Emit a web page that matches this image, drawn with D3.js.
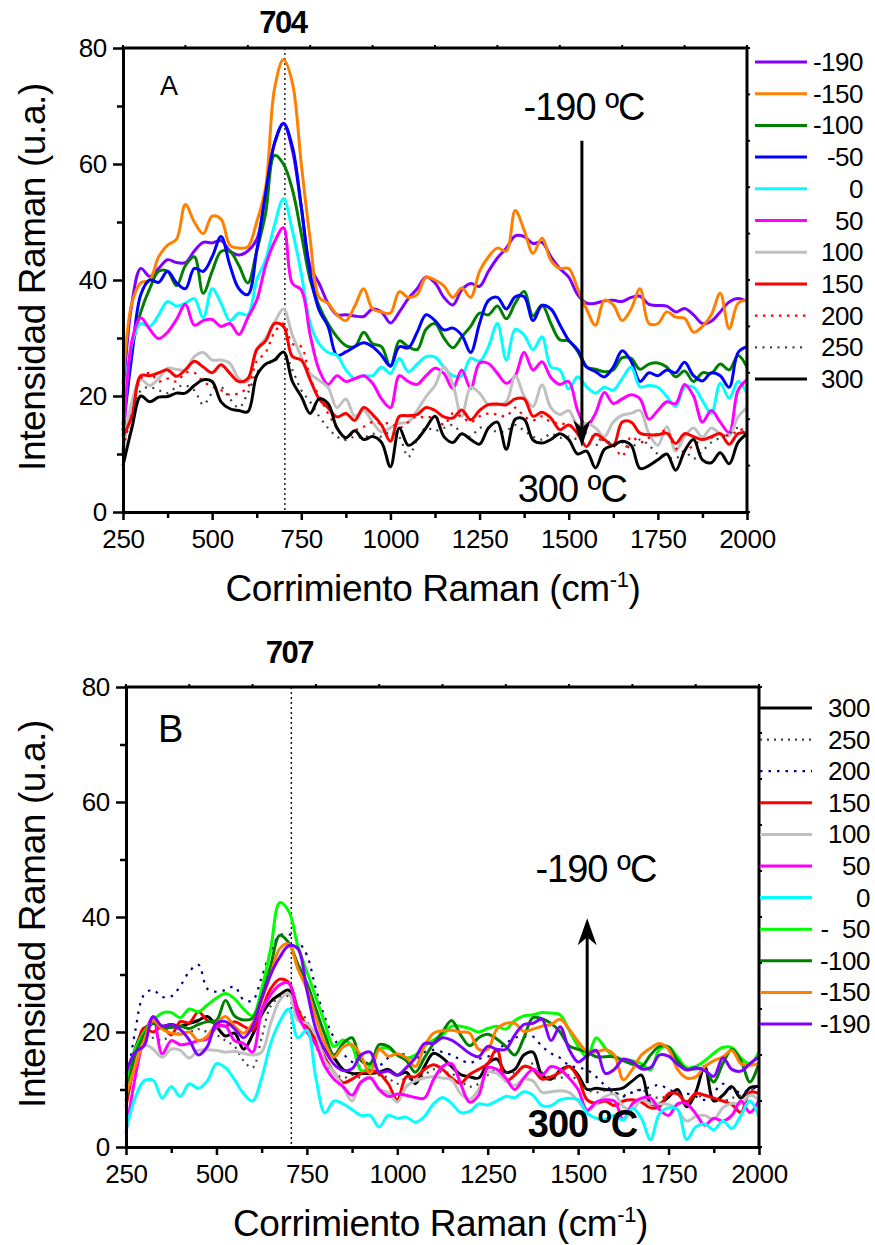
<!DOCTYPE html>
<html>
<head>
<meta charset="utf-8">
<script src="https://cdn.jsdelivr.net/npm/d3@7"></script>
<style>
    body { margin: 0; background: #fff; }
    #chart { width: 875px; height: 1245px; }
    text { font-family: "Liberation Sans", Arial, sans-serif; fill: #000; }
    .legendLabel { font-size: 26px; letter-spacing: -0.5px; }
    .axisTitle { font-size: 37px; letter-spacing: -0.4px; }
    .note { font-size: 38px; letter-spacing: -1px; }
    .peakLabel { font-size: 31px; font-weight: bold; letter-spacing: -1.5px; }
</style>
</head>
<body>
<div id="chart"></div>
<script>
// raman shift grid (cm-1)
const shift = [250, 275, 300, 325, 350, 375, 400, 425, 450, 475,
    500, 525, 550, 575, 600, 625, 650, 675, 700, 725,
    750, 775, 800, 825, 850, 875, 900, 925, 950, 975,
    1000, 1025, 1050, 1075, 1100, 1125, 1150, 1175, 1200, 1225,
    1250, 1275, 1300, 1325, 1350, 1375, 1400, 1425, 1450, 1475,
    1500, 1525, 1550, 1575, 1600, 1625, 1650, 1675, 1700, 1725,
    1750, 1775, 1800, 1825, 1850, 1875, 1900, 1925, 1950, 1975,
    2000];

// panel A spectra, one array per temperature (ºC)
const aM190 = [20, 36, 42, 40.6, 42, 43.5, 43, 43, 45, 46.5,
    46.4, 46.8, 45, 44.3, 45, 47, 55, 63.6, 67, 62.4,
    52.6, 42.3, 39.4, 36, 34, 34, 33.8, 33.7, 35, 34.5,
    32.6, 34.5, 36.8, 38.5, 40.5, 39.5, 37, 35.7, 38.3, 39.4,
    38.9, 41.5, 43.8, 45.5, 47.6, 47.5, 46.3, 46.5, 44, 42,
    40.5, 37.5, 36, 36, 36.4, 36.5, 36.3, 37, 37.2, 35.8,
    35.6, 35.5, 34.5, 35.1, 34, 32.5, 32.9, 34.5, 36.2, 36.8,
    36.3];
const aM150 = [22, 36, 39.5, 40, 44, 46, 47, 53, 50, 48,
    51, 50.5, 46, 45.5, 45.7, 50, 56, 73, 78, 74,
    60, 47, 37, 36, 34, 33, 35.5, 38.5, 35, 34.5,
    34.3, 38, 37, 37.5, 40.5, 40, 39, 37, 38.6, 37,
    41.5, 44, 45.5, 45, 52, 48.6, 44.6, 47.2, 43.4, 42,
    42, 38.5, 35, 32.2, 36.5, 35.7, 33, 35, 38.5, 32.5,
    32.5, 34.5, 33.6, 33.4, 31, 32, 34, 37.7, 31.6, 36,
    36.5];
const aM100 = [15, 28, 34.5, 38.5, 41.5, 41.5, 39, 42.5, 44, 37.7,
    41.5, 44.9, 44.9, 42.5, 39.5, 45, 51.5, 61.5, 60, 55.6,
    48, 40, 35.5, 32.5, 30.2, 28.7, 28.5, 31, 29, 28.5,
    25.1, 29.5, 28.5, 28, 31.5, 32.5, 30, 28.3, 30.2, 32,
    34.3, 34, 35.5, 33.3, 36, 38, 33.8, 35.7, 32.5, 29.7,
    29.5, 27.7, 25, 24.6, 24.2, 24.5, 26.6, 26.5, 24.6, 25.5,
    25.7, 25, 23.3, 24.3, 22.5, 24, 23.9, 25.5, 24.5, 27,
    25];
const aM50 = [14, 27, 37.5, 40, 39.6, 41.5, 39.5, 38.5, 42, 41.5,
    44, 47.5, 42.5, 38.5, 37.5, 45, 55, 63.6, 67, 63,
    52.6, 41.1, 34.8, 32, 27, 27.6, 28.5, 29.2, 28.5, 27,
    25.2, 28.5, 28.3, 31, 34, 33, 31.4, 31.7, 30.5, 27.5,
    32.5, 36.5, 37, 35, 37.1, 37.1, 33, 35.6, 35, 32.3,
    29.6, 28, 25, 24.2, 23.3, 25, 27.8, 26, 22.5, 24,
    23.5, 24.5, 24, 25.8, 23.5, 22.6, 24, 23.5, 21.5, 27.5,
    28.5];
const a0 = [13, 29, 32.5, 32, 34, 36.3, 35.5, 36, 36.8, 33.5,
    38.5, 36, 33, 34.3, 34, 40, 43.5, 49.5, 54, 48.5,
    41.1, 32.5, 29, 27.5, 27, 24.5, 23, 23.5, 23.5, 25,
    23.9, 26.5, 24.2, 25.5, 26.8, 26.7, 25, 23.5, 23.5, 26.5,
    26, 28.5, 32.5, 26.2, 31.5, 30.5, 28, 30.2, 25, 24.5,
    21.2, 23.3, 21.6, 20.5, 21.5, 21, 23, 25, 21.6, 21.8,
    21.5, 19.9, 18.2, 21.5, 21.5, 19.2, 17, 22.2, 19.6, 22.5,
    20.5];
const a50 = [10, 29.5, 33.5, 31.5, 29.9, 31, 33.2, 35.8, 32.2, 33,
    33.2, 32, 32.5, 30.6, 33.5, 36.5, 42.5, 46.6, 49, 39.4,
    38.3, 30.5, 24.5, 22, 23.5, 22.5, 23, 23.5, 22.2, 19.5,
    18, 23.5, 22.5, 22, 23.5, 24.8, 23.9, 21.3, 24.5, 21.3,
    25.7, 25.6, 23.9, 22.2, 23.5, 27.5, 24.5, 25.9, 23.2, 22,
    22.5, 17.5, 14.8, 17, 20.6, 18.7, 19.5, 20.2, 19.5, 16,
    17.5, 19, 18.7, 22, 20, 15.5, 17.5, 15.5, 13.7, 21,
    22.8];
const a100 = [10, 19, 22.8, 21.8, 23, 24.8, 24.6, 24.5, 26.8, 27.5,
    26.2, 26.2, 25.6, 23, 22.5, 28, 30, 32.7, 35, 30.5,
    26.8, 23.9, 22.7, 21.5, 18, 19.5, 16.5, 17.5, 15.5, 13.8,
    14.5, 15.3, 15.5, 17.5, 19.9, 21.8, 25, 22, 16.5, 21.5,
    20.5, 18.5, 18.5, 19, 23.5, 20, 18.2, 21.9, 18, 16.8,
    17.5, 15, 15.3, 14.5, 13, 15.5, 16.7, 17, 17.5, 13.5,
    11.5, 14.7, 10.5, 13, 14.5, 12.9, 14.5, 13.5, 13.2, 16.4,
    18];
const a150 = [13, 16.5, 23.5, 23.5, 24, 24.5, 23.4, 24.5, 26, 25,
    24, 25.4, 23.9, 22.5, 23, 28, 29.5, 32.5, 32, 26.8,
    26.2, 22.8, 19.5, 18, 16.4, 17, 15.8, 18, 16.8, 15,
    12.2, 16.5, 16.6, 16.8, 18, 17.5, 16.4, 16.2, 17.6, 15.9,
    17.5, 18.5, 18.6, 18.5, 19.5, 19.5, 16.5, 17.2, 16.2, 14.2,
    15, 13.5, 11.3, 13.4, 12.5, 11.5, 15.5, 15.5, 13.6, 13.3,
    13.3, 13.6, 11.8, 13.5, 13, 12.5, 13, 13.5, 11.7, 13.5,
    13.6];
const a200 = [11, 17, 23, 24, 22.5, 23, 22.5, 24, 24, 22.5,
    21.6, 21, 20.2, 20.5, 21.5, 26, 27.5, 31, 32.5, 29,
    28.5, 23, 20, 17, 14.5, 12.5, 14, 14.7, 15.5, 15.2,
    15.3, 14.5, 15.5, 16.5, 16.2, 16.5, 15, 17, 16.4, 15.5,
    16.5, 17, 16.8, 16.5, 18, 16.5, 15.8, 16.5, 15.5, 15.3,
    15, 14.5, 13.5, 12.8, 12.2, 11.5, 9.6, 13, 12, 12.8,
    13.5, 14, 11, 10.5, 11.5, 12.5, 12.8, 13.5, 13.2, 14,
    14.5];
const a250 = [8, 15, 21, 21.5, 21, 20.5, 21.5, 21.8, 21, 18.5,
    20.5, 21.5, 19.5, 18, 20.5, 24, 25.5, 26, 27.5, 24.5,
    21, 19, 16.5, 14.5, 13, 12.4, 13, 12.8, 13.5, 13,
    13.8, 12.9, 9.5, 12.5, 14.5, 14, 14.5, 15, 13.5, 13,
    14.5, 14.5, 13.8, 14, 15, 14, 13, 12.5, 13.5, 12.8,
    13, 12.5, 12, 11.5, 12.5, 11.5, 12, 11, 12.5, 11.5,
    10, 9.5, 9.2, 10.5, 9.2, 10.5, 12, 12.8, 13.5, 14.5,
    13];
const a300 = [8, 14.5, 20, 19, 19.8, 19.9, 20.5, 20.5, 21.8, 22.8,
    22.5, 19, 17.8, 17.5, 17.3, 23.5, 25.5, 26.2, 27.6, 22.5,
    19.9, 17, 19.5, 18.7, 14.5, 12.8, 14, 12.5, 13, 12,
    7.8, 14.5, 11.5, 12.5, 14.5, 16.5, 13, 12, 13.5, 12.5,
    11.7, 14.5, 15.5, 10.8, 16, 16, 12.4, 11.9, 12.5, 13.5,
    12.5, 10, 10.5, 7.6, 10.8, 11.5, 12.2, 11.5, 7.5, 8,
    9, 10, 7.2, 10.5, 12.5, 9, 8.5, 10.2, 8.3, 12,
    13.5];

// panel B spectra
const b300 = [10.5, 17, 20.5, 21.5, 21, 21.3, 21, 21.5, 22, 22.7,
    21, 19.3, 19.8, 17, 19.5, 23, 25.3, 26.5, 27.3, 22.5,
    20.9, 18.5, 17, 15.5, 13.5, 12.8, 12.8, 12.8, 13, 13.5,
    12.5, 13, 11, 14, 16.3, 15.5, 14, 12.6, 12.2, 12,
    14.5, 15.3, 13, 13.5, 16, 16.5, 12.5, 11.8, 13.3, 14,
    12.5, 10, 10.2, 10, 10, 10.3, 11.5, 12.5, 7.5, 7.5,
    8.7, 10, 7, 9.5, 14, 8, 9, 10.5, 8.5, 10.3,
    10.5];
const b250 = [8, 14, 18, 19, 18.5, 19.5, 19.8, 20, 20.5, 20,
    19.5, 18.5, 17.5, 15, 13.8, 19, 24.5, 26, 26.2, 24,
    22, 17.5, 14.5, 13, 12, 12.5, 12, 11.8, 12.5, 12,
    11, 12, 11.5, 12.5, 13.5, 13, 12.8, 11.5, 10.5, 11,
    12.5, 13.5, 13, 13, 14, 14.5, 13, 12, 12, 12.5,
    11.5, 10, 9.5, 9.8, 9.5, 9, 9.5, 10, 9, 8.5,
    9, 9.5, 8, 8.5, 9, 8.5, 8, 8.5, 9, 10,
    9.5];
const b200 = [10, 20, 26.5, 27.3, 26.1, 26.2, 28, 30.5, 31.7, 27.5,
    27, 27.3, 27.9, 25.6, 25.5, 29.5, 34, 36.8, 37, 35.8,
    33.4, 27.5, 22.5, 19, 16.3, 14.8, 14, 15, 14.2, 15.5,
    16.2, 16, 15.2, 16.5, 16.9, 16.5, 16, 15.2, 14.6, 15.3,
    15.7, 16.8, 18, 19, 19.2, 19.2, 17.5, 16.3, 15.5, 14.2,
    13.8, 13.4, 12.2, 10.7, 9.6, 8.8, 9.5, 10, 10.4, 10.8,
    10, 9.5, 9.3, 8.8, 8.2, 9.5, 11, 10, 9.5, 10,
    10.5];
const b150 = [7, 15, 20.7, 20, 21, 19.5, 21.8, 21.6, 23.5, 22,
    21.5, 21, 21.8, 21, 20.3, 23.8, 27.5, 29.2, 28.6, 24,
    20.9, 18.5, 15.5, 13, 11.2, 11.8, 12.8, 13.3, 12.8, 11,
    8.2, 12.2, 12.2, 13.5, 14.3, 13.5, 12, 11.1, 12.6, 13.5,
    14.5, 17, 11.5, 12.5, 14, 13.5, 11.8, 12.2, 13, 14,
    12, 8.2, 7.6, 8, 7.2, 8, 8.2, 7.8, 6.8, 7,
    9.3, 9.2, 7.8, 9.3, 9, 8.5, 8, 7.4, 6, 9.5,
    9.3];
const b100 = [9, 15, 17.8, 17, 15.6, 17, 16.8, 15.5, 16.8, 16.9,
    16.8, 16.5, 16.6, 16.3, 16, 16.5, 21.5, 25.5, 26.7, 22,
    21.5, 19.5, 15, 13, 10.5, 8, 11.3, 12.2, 10, 9.5,
    7.8, 10.5, 11.5, 12, 12.2, 12, 11.7, 9.3, 8.3, 10,
    13, 12.8, 11.5, 10.7, 11.8, 11.5, 9.5, 9.6, 9.8, 9.5,
    8, 6.3, 7.5, 8.8, 9.2, 7, 6.5, 8.2, 7.5, 7.5,
    7.4, 6.5, 4.5, 5.3, 5.5, 4.8, 6.8, 7.6, 7.5, 9,
    8.2];
const b50 = [2.5, 12, 19, 22.5, 16.2, 18.5, 17.8, 18, 18.5, 18.8,
    20.8, 21, 18.5, 18, 16.5, 23.6, 26.5, 28.2, 28.5, 23,
    20, 17.8, 14, 11.8, 10.5, 9, 11.3, 12, 10, 8.8,
    9.2, 9, 8.6, 8.5, 11.7, 14, 14.5, 11, 7.8, 9,
    13.8, 13.5, 12, 10, 12, 13.5, 12.5, 14, 13.5, 12,
    10, 6.4, 7.8, 8.2, 8, 4.8, 7.5, 8.5, 8.5, 6.5,
    5.5, 7.5, 7.5, 5.8, 3.8, 5, 4.5, 5.5, 8, 6,
    8.2];
const b0 = [3, 8.5, 11.5, 11.6, 8.5, 10.5, 8.8, 11, 10.2, 11.5,
    14.5, 13.8, 11.7, 9.3, 8, 12, 18, 21.8, 24, 19,
    20.3, 12, 5.9, 8, 7.5, 6.5, 5.5, 5.5, 3.5, 5.5,
    5, 5.2, 4.3, 5.3, 7.5, 8.6, 7.6, 6, 6.2, 7.5,
    7.3, 8, 8.8, 8.6, 9.6, 9, 7.2, 7.2, 8.2, 8.5,
    8.2, 5.9, 5, 4.8, 5.5, 4.7, 6.8, 5, 1.3, 5.8,
    6.8, 6.5, 1.3, 3.5, 4, 3, 4.5, 3.2, 5.5, 8,
    5.3];
const bM50 = [11, 17, 20, 22, 23.3, 23.4, 22.5, 24, 23.5, 24.7,
    25.9, 26.7, 25.8, 24, 22.8, 27.5, 34.5, 42.5, 41, 35,
    30.5, 26, 21.5, 17.5, 18.6, 17.5, 13.3, 14, 17, 17.2,
    16, 15.5, 16, 17.5, 18.6, 19.5, 21, 21, 20.6, 20,
    20.6, 21, 20.5, 22, 22.8, 23, 23.4, 23.3, 23, 20.3,
    17.5, 15.7, 19, 17.2, 15.6, 15.2, 15, 14.5, 13.4, 17,
    17.4, 15.6, 13.8, 14, 15, 16.3, 17.3, 17.3, 15.5, 14.5,
    16.6];
const bM100 = [8, 16, 19.5, 21.5, 20.8, 20.8, 21, 20.6, 21.3, 21.8,
    22, 25.5, 22.8, 22.1, 22.4, 26, 31.5, 36.8, 35.5, 31.8,
    28.5, 24, 19.5, 16, 18, 19, 15, 14.5, 17.8, 17.5,
    16, 15, 13, 15.5, 18, 20, 22, 19.5, 17.6, 19,
    19.6, 18.8, 17.5, 16, 19, 22.5, 22.3, 21.5, 20, 17.6,
    17, 16.5, 15.7, 15.7, 15.7, 15, 14.4, 14, 16, 17.5,
    17.4, 15, 13.5, 13.6, 13.5, 11.3, 14.5, 17, 15, 11.3,
    14.6];
const bM150 = [9, 14, 18.5, 22, 20.5, 19.8, 19.6, 20, 18.5, 19.3,
    21.5, 22.7, 21, 19.8, 21.5, 25.5, 30, 34.5, 35.3, 31,
    27.5, 22.5, 18, 15.6, 17.4, 17.8, 15.8, 12.8, 17, 15.8,
    16.2, 15.5, 14, 17.5, 19.8, 20.2, 20.3, 20, 19.8, 17,
    17, 20.5, 21.5, 21.5, 20.1, 20.5, 21, 21.3, 22.2, 20.5,
    18.3, 16.6, 16.5, 16.9, 16, 11.7, 13.5, 16, 17.2, 18,
    17, 13.5, 12, 12.2, 14, 15, 15.7, 16.8, 14.5, 14.2,
    14.6];
const bM190 = [12.8, 16.5, 17.6, 22.7, 21, 21.3, 20.4, 18.6, 16, 17.5,
    21.5, 21.8, 20.6, 19, 21, 25.8, 30, 33, 35, 34.5,
    27.3, 20.5, 16.8, 14.4, 13.3, 13.6, 16, 16.5, 13, 13.2,
    12.5, 13.8, 15.5, 18, 18, 19, 18.6, 17.5, 16.3, 15.7,
    17.5, 17, 17, 19.5, 21.3, 21.5, 22.2, 18.5, 20.9, 17,
    14.8, 15.9, 16.8, 12.8, 13.5, 15.3, 14.8, 13.6, 13.8, 16,
    15.8, 14.4, 13.4, 13.8, 13.3, 12.3, 15.5, 13.5, 13.2, 14.5,
    15.7];

// legend keys, in the order they are listed
const keysA = ["-190", "-150", "-100", "-50", "0", "50", "100", "150", "200", "250", "300"];
const keysB = ["300", "250", "200", "150", "100", "50", "0", "-50", "-100", "-150", "-190"];

const seriesA = [aM190, aM150, aM100, aM50, a0, a50, a100, a150, a200, a250, a300]
    .map((values, i) => ({ key: keysA[i], values: values }));
const seriesB = [b300, b250, b200, b150, b100, b50, b0, bM50, bM100, bM150, bM190]
    .map((values, i) => ({ key: keysB[i], values: values }));

/* the svg */
const width = 875;
const height = 1245;

const svg = d3.select("#chart")
    .append("svg")
    .attr("width", width)
    .attr("height", height);

//colors and dashes for each temperature
const colorA = d3.scaleOrdinal()
    .domain(keysA)
    .range(["#8000ff", "#ff8000", "#008000", "#0000ff", "#00ffff", "#ff00ff", "#c0c0c0", "#ff0000", "#ff0000", "#404040", "#000000"]);
const dashA = d3.scaleOrdinal()
    .domain(keysA)
    .range([null, null, null, null, null, null, null, null, "2.5,5.5", "2,5.5", null]);

const colorB = d3.scaleOrdinal()
    .domain(keysB)
    .range(["#000000", "#404040", "#000080", "#ff0000", "#c0c0c0", "#ff00ff", "#00ffff", "#00ff00", "#008000", "#ff8000", "#8000ff"]);
const dashB = d3.scaleOrdinal()
    .domain(keysB)
    .range([null, "2,5", "2.5,6", null, null, null, null, null, null, null, null]);

const panels = [
    {
        box: { left: 123, right: 747, top: 48, bottom: 512 },
        series: seriesA, color: colorA, dash: dashA,
        legendTop: 62, legendStep: 31.7, legendX: 755, legendEnd: 863,
        legendText: d => d,
        peak: 704, peakY: 33, letter: "A", letterSize: 27, letterPos: [160, 95],
        arrow: { x: 1537, from: 64, to: 11.2 },
        upper: { text: "-190 ºC", x: 1543, y: 67.6, bold: false },
        lower: { text: "300 ºC", x: 1510, y: 1.7, bold: false }
    },
    {
        box: { left: 126, right: 759, top: 687, bottom: 1147 },
        series: seriesB, color: colorB, dash: dashB,
        legendTop: 708, legendStep: 31.6, legendX: 760, legendEnd: 870,
        legendText: d => d === "-50" ? "-\u00a0\u00a050" : d,
        peak: 707, peakY: 663, letter: "B", letterSize: 38, letterPos: [158, 742],
        arrow: { x: 1525, from: 11.1, to: 39.8 },
        upper: { text: "-190 ºC", x: 1549, y: 46.1, bold: false },
        lower: { text: "300 ºC", x: 1512, y: 1.7, bold: true }
    }
];

panels.forEach(drawPanel);

//draws one spectra panel with axes, legend and notes
function drawPanel(p) {
    const b = p.box;

    const xScale = d3.scaleLinear()
        .domain([250, 2000])
        .range([b.left, b.right]);

    const yScale = d3.scaleLinear()
        .domain([0, 80])
        .range([b.bottom, b.top]);

    const g = svg.append("g");

    //peak position marker
    g.append("line")
        .attr("x1", xScale(p.peak))
        .attr("x2", xScale(p.peak))
        .attr("y1", b.top)
        .attr("y2", b.bottom)
        .attr("stroke", "#000")
        .attr("stroke-width", 1.3)
        .attr("stroke-dasharray", "2,3");

    g.append("text")
        .attr("class", "peakLabel")
        .attr("x", xScale(p.peak) - 2)
        .attr("y", p.peakY)
        .attr("text-anchor", "middle")
        .text(p.peak);

    //the spectra
    const line = d3.line()
        .x((d, i) => xScale(shift[i]))
        .y(d => yScale(d))
        .curve(d3.curveCatmullRom.alpha(0.5));

    g.selectAll(".spectrum")
        .data(p.series)
        .enter()
        .append("path")
        .attr("class", "spectrum")
        .attr("fill", "none")
        .attr("stroke", d => p.color(d.key))
        .attr("stroke-width", d => p.dash(d.key) ? 2.2 : 3)
        .attr("stroke-dasharray", d => p.dash(d.key))
        .attr("stroke-linejoin", "round")
        .attr("d", d => line(d.values));

    //frame on top and right with the small ticks
    g.append("path")
        .attr("d", `M${b.left},${b.top}H${b.right}V${b.bottom}`)
        .attr("fill", "none")
        .attr("stroke", "#000")
        .attr("stroke-width", 3)
        .attr("stroke-linecap", "square");

    d3.range(11).forEach(k => {
        const tx = b.left + k * (b.right - b.left) / 10;
        const ty = b.top + k * (b.bottom - b.top) / 10;
        g.append("line").attr("x1", tx).attr("x2", tx).attr("y1", b.top).attr("y2", b.top - 3)
            .attr("stroke", "#000").attr("stroke-width", 2);
        g.append("line").attr("x1", b.right).attr("x2", b.right + 3).attr("y1", ty).attr("y2", ty)
            .attr("stroke", "#000").attr("stroke-width", 2);
    });

    //draw the x and y axis
    const xAxis = g.append("g")
        .attr("transform", `translate(0,${b.bottom})`)
        .call(d3.axisBottom(xScale)
            .tickValues([250, 500, 750, 1000, 1250, 1500, 1750, 2000])
            .tickFormat(d3.format("d"))
            .tickSize(8)
            .tickSizeOuter(0)
            .tickPadding(10));

    const xMinor = g.append("g")
        .attr("transform", `translate(0,${b.bottom})`)
        .call(d3.axisBottom(xScale)
            .tickValues([375, 625, 875, 1125, 1375, 1625, 1875])
            .tickSize(6)
            .tickSizeOuter(0)
            .tickFormat(""));

    const yAxis = g.append("g")
        .attr("transform", `translate(${b.left},0)`)
        .call(d3.axisLeft(yScale)
            .tickValues([0, 20, 40, 60, 80])
            .tickSize(10)
            .tickSizeOuter(0)
            .tickPadding(6));

    const yMinor = g.append("g")
        .attr("transform", `translate(${b.left},0)`)
        .call(d3.axisLeft(yScale)
            .tickValues([10, 30, 50, 70])
            .tickSize(6)
            .tickSizeOuter(0)
            .tickFormat(""));

    [xAxis, xMinor, yAxis, yMinor].forEach(ax => {
        ax.attr("font-family", null).attr("font-size", null);
        ax.select(".domain")
            .attr("stroke-width", 3)
            .attr("stroke-linecap", "square");
        ax.selectAll(".tick line").attr("stroke-width", 2.5);
        ax.selectAll(".tick text")
            .style("font-size", "26px")
            .style("letter-spacing", "-0.3px");
    });

    //axis titles
    const xTitle = g.append("text")
        .attr("class", "axisTitle")
        .attr("x", (b.left + b.right) / 2 - 2)
        .attr("y", b.bottom + 89)
        .attr("text-anchor", "middle");
    xTitle.append("tspan").text("Corrimiento Raman (cm");
    xTitle.append("tspan").attr("dy", -14).style("font-size", "22px").text("-1");
    xTitle.append("tspan").attr("dy", 14).text(")");

    g.append("text")
        .attr("class", "axisTitle")
        .attr("transform", "rotate(-90)")
        .attr("x", -(b.top + b.bottom) / 2 + 3)
        .attr("y", 45)
        .attr("text-anchor", "middle")
        .text("Intensidad Raman (u.a.)");

    //panel letter
    g.append("text")
        .attr("x", p.letterPos[0])
        .attr("y", p.letterPos[1])
        .style("font-size", p.letterSize + "px")
        .text(p.letter);

    //temperature arrow
    const ax = xScale(p.arrow.x);
    const y0 = yScale(p.arrow.from);
    const y1 = yScale(p.arrow.to);
    const dir = y1 > y0 ? 1 : -1;
    const hw = dir > 0 ? 8.5 : 9.5;
    g.append("line")
        .attr("x1", ax).attr("x2", ax)
        .attr("y1", y0).attr("y2", y1 - dir * 16)
        .attr("stroke", "#000")
        .attr("stroke-width", 3);
    g.append("path")
        .attr("d", `M${ax},${y1}L${ax - hw},${y1 - dir * 27}L${ax},${y1 - dir * 19}L${ax + hw},${y1 - dir * 27}Z`)
        .attr("fill", "#000");

    [p.upper, p.lower].forEach(n => {
        g.append("text")
            .attr("class", "note")
            .attr("x", xScale(n.x))
            .attr("y", yScale(n.y))
            .attr("text-anchor", "middle")
            .style("font-weight", n.bold ? "bold" : null)
            .text(n.text);
    });

    //the legend
    const rows = g.selectAll(".legendRow")
        .data(p.series.map(d => d.key))
        .enter()
        .append("g")
        .attr("class", "legendRow")
        .attr("transform", (d, i) => `translate(0,${p.legendTop + i * p.legendStep})`);

    rows.append("line")
        .attr("x1", p.legendX)
        .attr("x2", p.legendX + 52)
        .attr("stroke", d => p.color(d))
        .attr("stroke-width", d => p.dash(d) ? 2.2 : 3)
        .attr("stroke-dasharray", d => p.dash(d));

    rows.append("text")
        .attr("class", "legendLabel")
        .attr("x", p.legendEnd)
        .attr("y", 9)
        .attr("text-anchor", "end")
        .text(p.legendText);
}
</script>
</body>
</html>
